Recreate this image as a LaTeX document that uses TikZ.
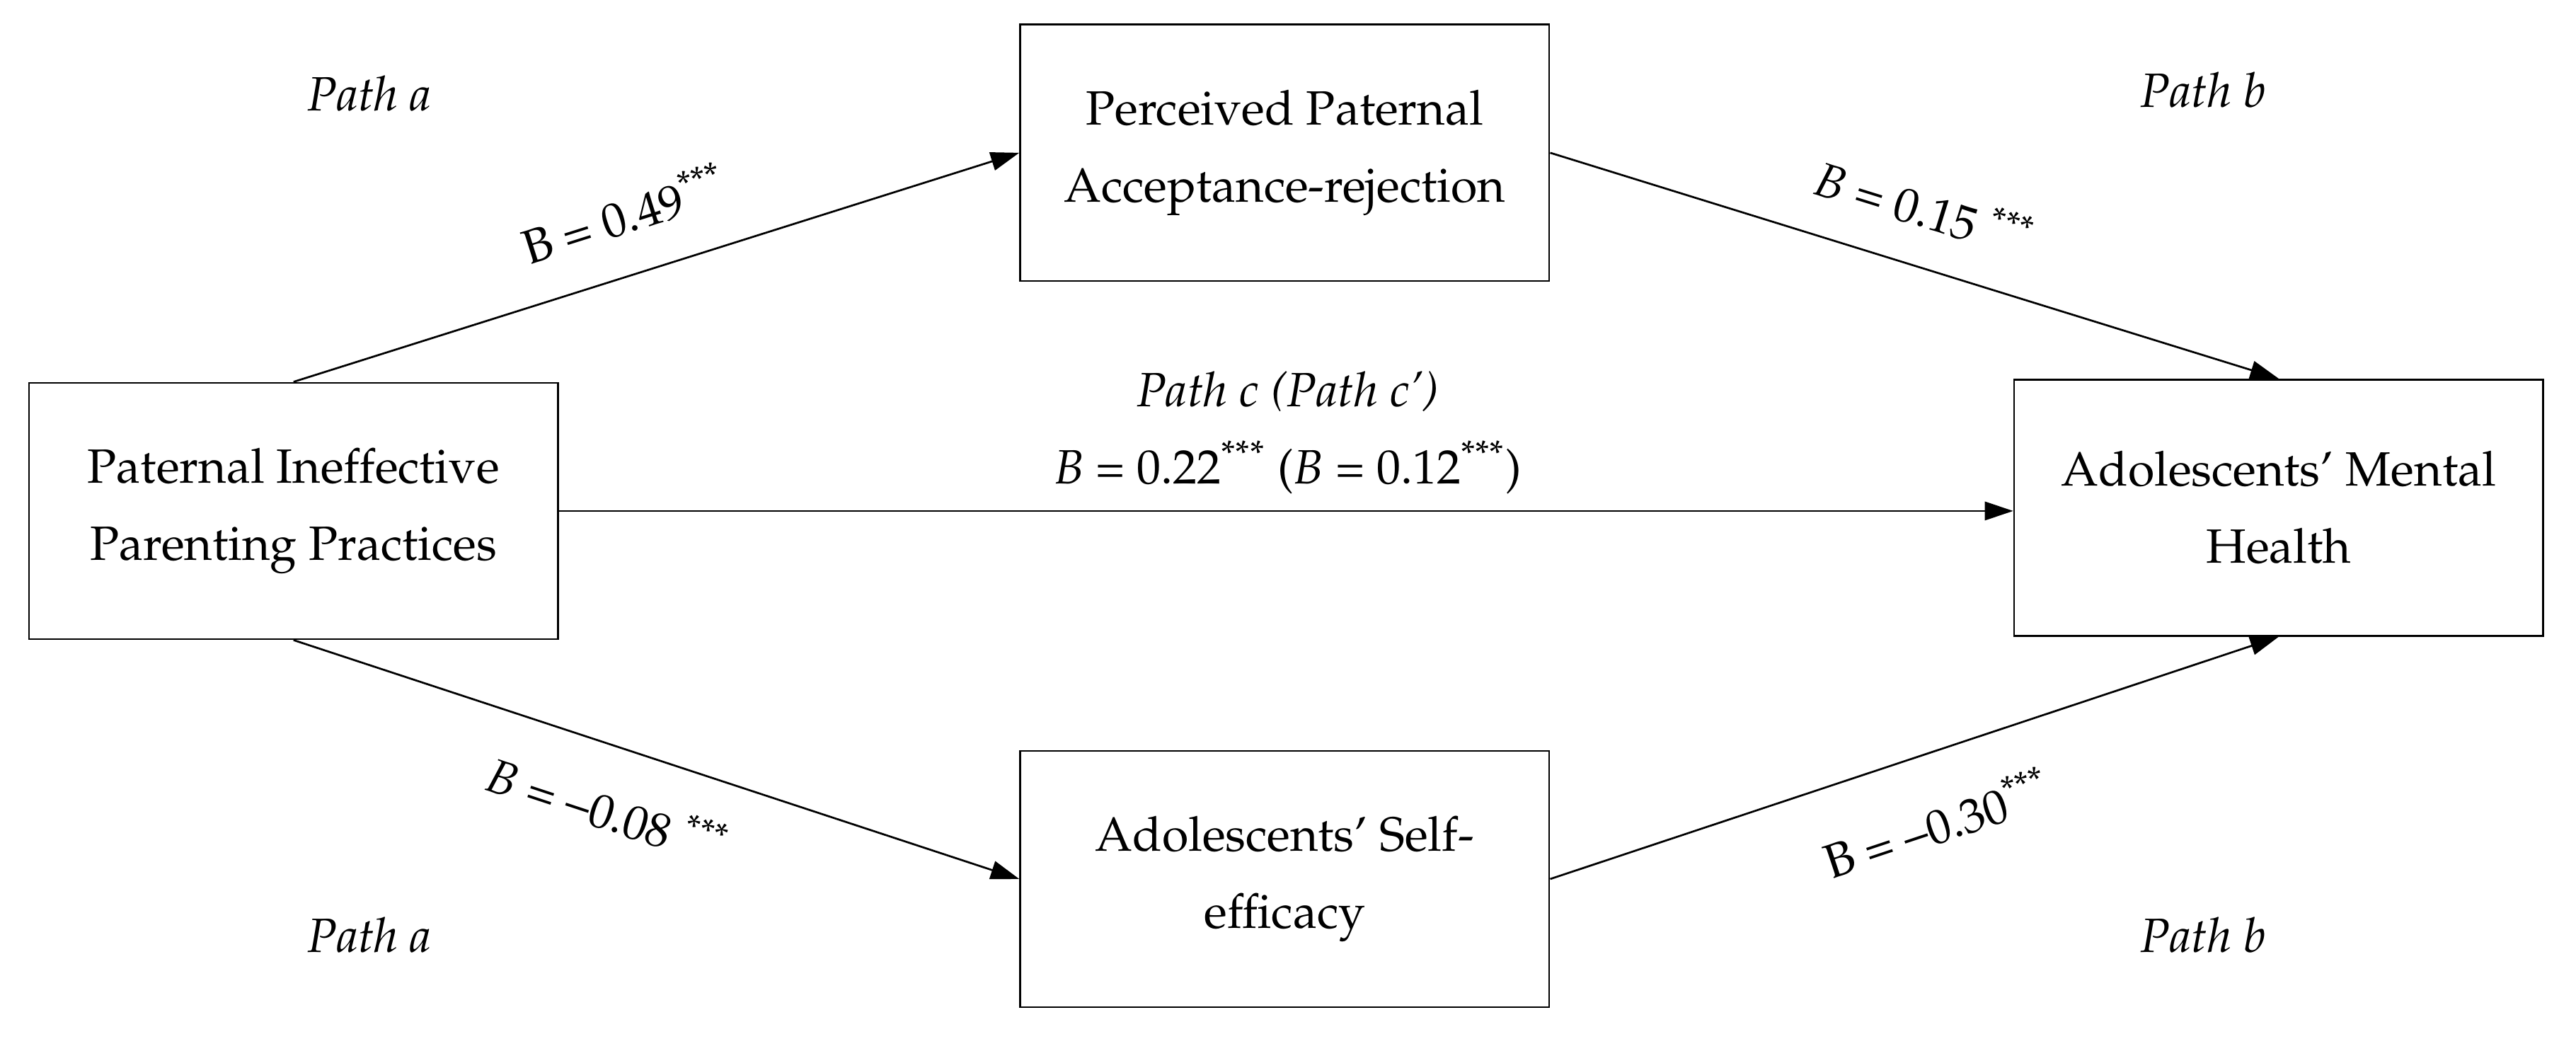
\documentclass[tikz,border=0pt]{standalone}
\usepackage[T1]{fontenc}
\usepackage{mathpazo}
\usetikzlibrary{arrows.meta}

\tikzset{
varbox/.style={draw, line width=0.5pt, minimum width=4.83cm, minimum height=2.34cm, align=center, inner sep=0pt},
pathlabel/.style={font=\fontsize{12.5}{20}\selectfont\itshape},
coef/.style={sloped, inner sep=1pt},
arr/.style={-{Triangle[length=0.26cm, width=0.17cm]}, line width=0.5pt}
}

\begin{document}
\begin{tikzpicture}[font=\fontsize{12.5}{20}\selectfont]

\def \xl{3.375}
\def \xr{20.115}

\useasboundingbox (0,0) rectangle (23.52,-9.48);

\node [varbox] (ppp) at (2.68,-4.665) {Paternal Ineffective\\Parenting Practices};
\node [varbox] (ppa) at (11.73,-1.395) {Perceived Paternal\\Acceptance-rejection};
\node [varbox] (amh) at (20.805,-4.635) {Adolescents' Mental\\Health};
\node [varbox] (ase) at (11.73,-8.025) {Adolescents' Self-\\efficacy};

\foreach \x/\y/\t/\n in {\xl/-0.855/a/1, \xr/-0.825/b/1, \xl/-8.535/a/2, \xr/-8.535/b/2}{
\node [pathlabel] (p\t\n) at (\x,\y) {Path \t};
}

\draw [arr] (ppp.north) -- node [coef, above=0.32cm, pos=0.48] (ba) {B = 0.49\textsuperscript{***}} (ppa.west);
\draw [arr] (ppa.east) -- node [coef, above=0.3cm, pos=0.49] (bb) {\textit{B} = 0.15 \textsuperscript{***}} (amh.north);
\draw [arr] (ppp.south) -- node [coef, below=0.32cm, pos=0.46] (bc) {\textit{B} = --0.08 \textsuperscript{***}} (ase.west);
\draw [arr] (ase.east) -- node [coef, below=0.38cm, pos=0.5] (bd) {B = --0.30\textsuperscript{***}} (amh.south);

\draw [arr] (ppp.east) -- (ppp.east -| amh.west);
\node [align=center] (pc) at (11.76,-3.95) {\textit{Path c (Path c')}\\\textit{B} = 0.22\textsuperscript{***} (\textit{B} = 0.12\textsuperscript{***})};

\end{tikzpicture}
\end{document}
